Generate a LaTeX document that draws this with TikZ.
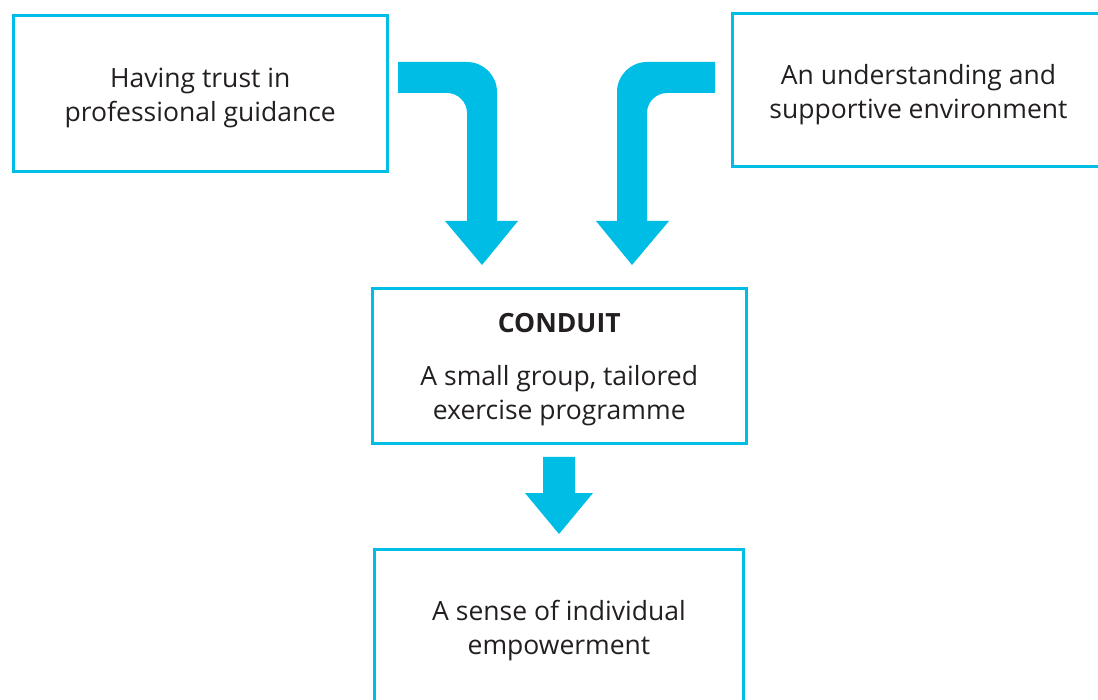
\documentclass[tikz,border=0pt]{standalone}
\usepackage{fontspec}
\setmainfont{Open Sans}
\definecolor{boxcyan}{RGB}{0,189,230}
\definecolor{txtgray}{RGB}{35,31,32}
\begin{document}
\begin{tikzpicture}[x=1pt,y=-1pt,
  box/.style={draw=boxcyan, line width=3pt, inner sep=0pt},
  label text/.style={inner sep=0pt, align=center, text=txtgray,
    font=\fontsize{26.5}{34}\selectfont},
  blockarrow/.style={fill=boxcyan, draw=none}]
\useasboundingbox (0,0) rectangle (1098,700);
\clip (0,0) rectangle (1098,700);
% boxes
\node[box, minimum width=374.5pt, minimum height=155.5pt] (trust) at (200.25,93.75) {};
\node[box, minimum width=375pt, minimum height=152.5pt] (env) at (919.5,90.25) {};
\node[box, minimum width=374.5pt, minimum height=155pt] (conduit) at (559.25,366) {};
\node[box, minimum width=369pt, minimum height=156pt] (empower) at (559,627) {};
% texts
\node[label text] (trusttext) at ([yshift=-4pt]trust.center)
  {Having trust in\\professional guidance};
\node[label text] (envtext) at ([yshift=-4.5pt,xshift=-1pt]env.center)
  {An understanding and\\supportive environment};
\node[label text] (conduittext) at ([yshift=-4pt]conduit.center)
  {\textbf{CONDUIT}\\[19pt]A small group, tailored\\exercise programme};
\node[label text] (empowertext) at ([yshift=-3.5pt]empower.center)
  {A sense of individual\\empowerment};
% left bent arrow
\fill[blockarrow] (398,62) -- (467,62) .. controls (483.6,62) and (497,75.4) .. (497,92)
  -- (497,221) -- (518,221) -- (482,265) -- (445,221) -- (467,221) -- (467,113)
  .. controls (467,102) and (458,93) .. (447,93) -- (398,93) -- cycle;
% right bent arrow
\fill[blockarrow] (715,62) -- (647,62) .. controls (630.4,62) and (617,75.4) .. (617,92)
  -- (617,221) -- (596,221) -- (632,265) -- (669,221) -- (647,221) -- (647,113)
  .. controls (647,102) and (656,93) .. (667,93) -- (715,93) -- cycle;
% down arrow
\fill[blockarrow] (543,457) -- (575,457) -- (575,493) -- (593,493) -- (559,534)
  -- (525,493) -- (543,493) -- cycle;
\end{tikzpicture}
\end{document}
